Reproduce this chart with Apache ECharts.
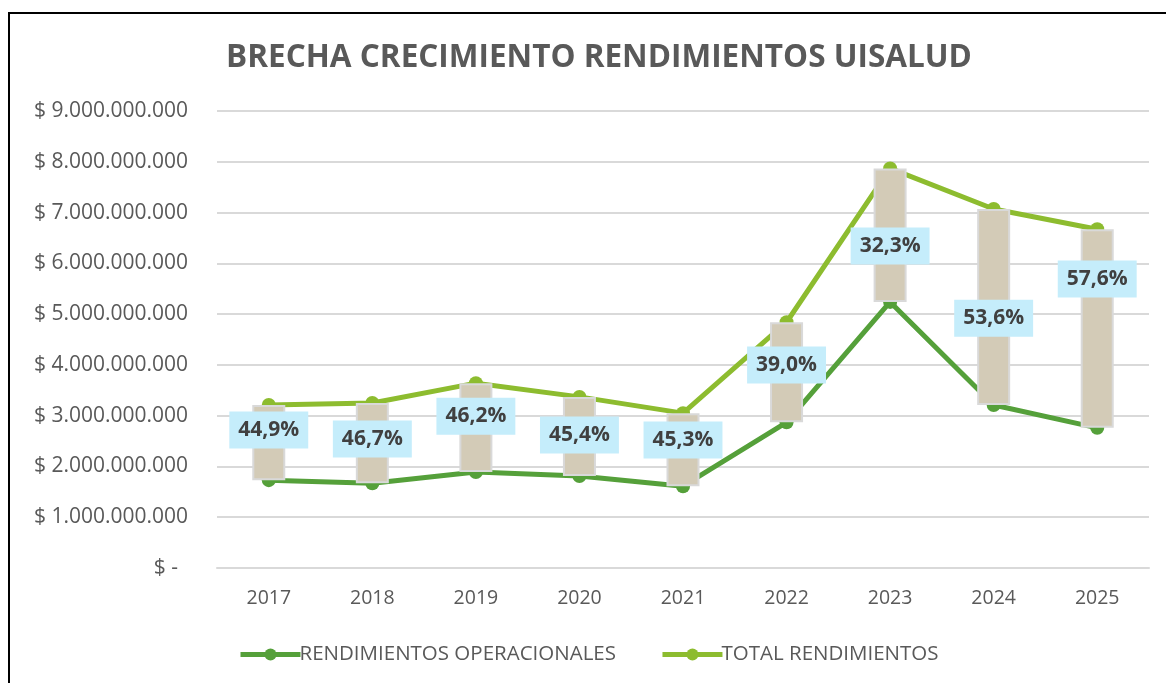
<!DOCTYPE html>
<html>
<head>
<meta charset="utf-8">
<script src="https://cdn.jsdelivr.net/npm/echarts@6/dist/echarts.min.js"></script>
<style>
  html, body { margin: 0; padding: 0; background: #fff; }
  #frame { position: absolute; left: 8px; top: 12px; width: 1200px; height: 700px;
           border-left: 2px solid #000; border-top: 2px solid #000; }
  #chart { position: absolute; left: 0; top: 0; width: 1166px; height: 683px; }
</style>
</head>
<body>
<div id="frame"></div>
<div id="chart"></div>
<script>
let years = ['2017', '2018', '2019', '2020', '2021', '2022', '2023', '2024', '2025'];
// rendimientos operacionales
let operacionales = [1730000000, 1670000000, 1890000000, 1810000000, 1610000000, 2870000000, 5240000000, 3210000000, 2760000000];
// total rendimientos
let totales = [3210000000, 3250000000, 3640000000, 3370000000, 3050000000, 4840000000, 7870000000, 7070000000, 6670000000];
// brecha (etiquetas) y altura donde se ven
let brecha = ['44,9%', '46,7%', '46,2%', '45,4%', '45,3%', '39,0%', '32,3%', '53,6%', '57,6%'];
let brechaPos = [2720000000, 2540000000, 2990000000, 2620000000, 2520000000, 4000000000, 6340000000, 4920000000, 5690000000];

let chartDom = document.getElementById('chart');
let myChart = echarts.init(chartDom);

let gap = totales.map((t, i) => t - operacionales[i]);

function money(v) {
  if (v === 0) return '{z|$ -}';
  return '$ ' + String(v).replace(/\B(?=(\d{3})+(?!\d))/g, '.');
}

let option = {
  animation: false,
  textStyle: { fontFamily: 'Open Sans' },
  title: {
    text: 'BRECHA CRECIMIENTO RENDIMIENTOS UISALUD',
    left: 594,
    textAlign: 'center',
    top: 37,
    textStyle: {
      fontFamily: 'Open Sans',
      fontSize: 31.5,
      fontWeight: 'bold',
      color: '#595959'
    }
  },
  legend: {
    data: ['RENDIMIENTOS OPERACIONALES', 'TOTAL RENDIMIENTOS'],
    left: 233,
    top: 639,
    itemWidth: 60,
    itemHeight: 15,
    itemGap: 44,
    lineStyle: { width: 5 },
    textStyle: {
      fontFamily: 'Open Sans',
      fontSize: 20.5,
      color: '#595959',
      padding: [0, 0, 0, -6]
    }
  },
  grid: {
    left: 217,
    right: 17,
    top: 111,
    bottom: 115
  },
  xAxis: {
    type: 'category',
    data: years,
    axisTick: { show: false },
    axisLine: { lineStyle: { color: '#D9D9D9', width: 2 } },
    axisLabel: {
      margin: 20,
      fontSize: 19.5,
      color: '#595959'
    }
  },
  yAxis: {
    type: 'value',
    min: 0,
    max: 9000000000,
    interval: 1000000000,
    axisLine: { show: false },
    axisTick: { show: false },
    splitLine: { lineStyle: { color: '#D9D9D9', width: 2 } },
    axisLabel: {
      margin: 29,
      fontSize: 21,
      color: '#595959',
      formatter: money,
      rich: {
        z: { fontSize: 21, color: '#595959', padding: [0, 10, 0, 0] }
      }
    }
  },
  series: [
    {
      name: 'base',
      type: 'bar',
      stack: 'brecha',
      barWidth: 33,
      z: 3,
      itemStyle: { color: 'transparent' },
      silent: true,
      data: operacionales
    },
    {
      name: 'brecha',
      type: 'bar',
      stack: 'brecha',
      barWidth: 33,
      z: 3,
      itemStyle: {
        color: '#D3CBB7',
        borderColor: '#D9D9D9',
        borderWidth: 2
      },
      data: gap
    },
    {
      name: 'RENDIMIENTOS OPERACIONALES',
      type: 'line',
      z: 2,
      symbol: 'circle',
      symbolSize: 14,
      color: '#55A03A',
      lineStyle: { width: 5, color: '#55A03A' },
      itemStyle: { color: '#55A03A' },
      data: operacionales
    },
    {
      name: 'TOTAL RENDIMIENTOS',
      type: 'line',
      z: 2,
      symbol: 'circle',
      symbolSize: 14,
      color: '#8DBC2F',
      lineStyle: { width: 5, color: '#8DBC2F' },
      itemStyle: { color: '#8DBC2F' },
      data: totales
    },
    {
      name: 'etiquetas',
      type: 'scatter',
      z: 5,
      symbolSize: 1,
      silent: true,
      itemStyle: { color: '#C5EDFB', opacity: 1 },
      label: {
        show: true,
        position: 'inside',
        opacity: 1,
        formatter: function (p) { return brecha[p.dataIndex]; },
        backgroundColor: '#C5EDFB',
        padding: [6, 9],
        lineHeight: 25,
        fontFamily: 'Open Sans',
        fontSize: 21,
        fontWeight: 'bold',
        color: '#404040'
      },
      data: brechaPos
    }
  ]
};

option && myChart.setOption(option);
</script>
</body>
</html>
